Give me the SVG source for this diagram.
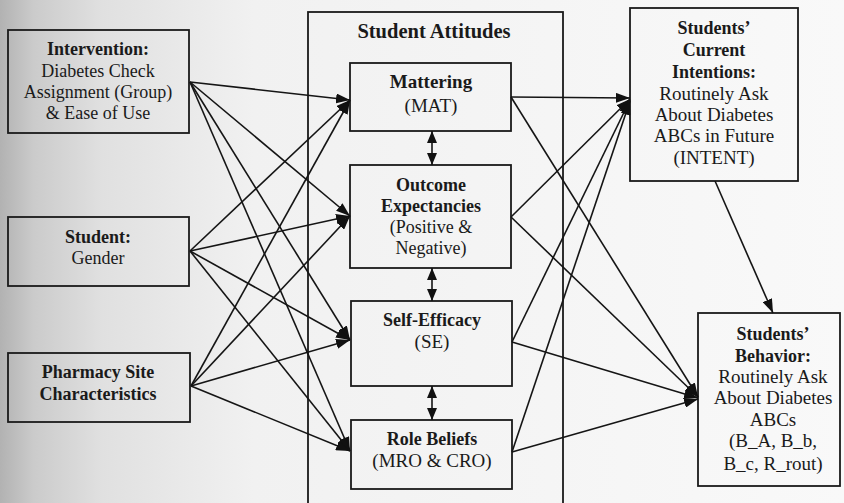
<svg xmlns="http://www.w3.org/2000/svg" width="844" height="503" viewBox="0 0 844 503">
<defs>
<linearGradient id="bg" x1="0" y1="0" x2="1" y2="0">
<stop offset="0" stop-color="#b2b2b2"/>
<stop offset="0.04" stop-color="#cbcbcb"/>
<stop offset="0.12" stop-color="#e0e0e0"/>
<stop offset="0.3" stop-color="#f1f1f1"/>
<stop offset="1" stop-color="#f9f9f9"/>
</linearGradient>
<marker id="ah" markerUnits="userSpaceOnUse" markerWidth="14" markerHeight="10" refX="14" refY="5" orient="auto">
<path d="M0,0 L14,5 L0,10 Z" fill="#111"/>
</marker>
<marker id="dh" markerUnits="userSpaceOnUse" markerWidth="12" markerHeight="10" refX="12" refY="5" orient="auto-start-reverse">
<path d="M0,0 L12,5 L0,10 Z" fill="#111"/>
</marker>
</defs>
<style>
.box{fill:none;stroke:#1a1a1a;stroke-width:1.8}
.t{font-family:"Liberation Serif","Times New Roman",serif;font-size:18px;fill:#1a1a1a;text-anchor:middle}
.b{font-weight:bold}
.a{font-size:19px}
.c line{stroke:#151515;stroke-width:1.6}
</style>
<rect x="0" y="0" width="844" height="503" fill="url(#bg)"/>

<g id="attitudes">
<rect class="box" x="308" y="12" width="255" height="500"/>
<text class="t b" x="434" y="38" style="font-size:20.5px">Student Attitudes</text>
</g>

<g id="intervention">
<rect class="box" x="8" y="30" width="181" height="103"/>
<text class="t b" x="98" y="55">Intervention:</text>
<text class="t" x="98" y="77">Diabetes Check</text>
<text class="t" x="98" y="98">Assignment (Group)</text>
<text class="t" x="98" y="119">&amp; Ease of Use</text>
</g>

<g id="student">
<rect class="box" x="8" y="217" width="181" height="69"/>
<text class="t b" x="98" y="243">Student:</text>
<text class="t" x="98" y="264">Gender</text>
</g>

<g id="pharmacy">
<rect class="box" x="8" y="353" width="182" height="69"/>
<text class="t b" x="98" y="378">Pharmacy Site</text>
<text class="t b" x="98" y="400">Characteristics</text>
</g>

<g id="mattering">
<rect class="box" x="350" y="63" width="161" height="68"/>
<text class="t b a" x="431" y="88">Mattering</text>
<text class="t a" x="431" y="112">(MAT)</text>
</g>

<g id="outcome">
<rect class="box" x="350" y="165" width="161" height="103"/>
<text class="t b" x="431" y="191">Outcome</text>
<text class="t b" x="431" y="212">Expectancies</text>
<text class="t" x="431" y="233">(Positive &amp;</text>
<text class="t" x="431" y="254">Negative)</text>
</g>

<g id="selfefficacy">
<rect class="box" x="351" y="301" width="161" height="85"/>
<text class="t b" x="432" y="326">Self-Efficacy</text>
<text class="t a" x="432" y="348">(SE)</text>
</g>

<g id="rolebeliefs">
<rect class="box" x="351" y="420" width="161" height="69"/>
<text class="t b" x="432" y="445">Role Beliefs</text>
<text class="t a" x="432" y="467">(MRO &amp; CRO)</text>
</g>

<g id="intentions">
<rect class="box" x="630" y="8" width="168" height="173"/>
<text class="t b" x="714" y="34">Students’</text>
<text class="t b" x="714" y="56">Current</text>
<text class="t b" x="714" y="78">Intentions:</text>
<text class="t a" x="714" y="100">Routinely Ask</text>
<text class="t a" x="714" y="121">About Diabetes</text>
<text class="t a" x="714" y="142">ABCs in Future</text>
<text class="t a" x="714" y="164">(INTENT)</text>
</g>

<g id="behavior">
<rect class="box" x="698" y="313" width="142" height="173"/>
<text class="t b" x="773" y="340">Students’</text>
<text class="t b" x="773" y="362">Behavior:</text>
<text class="t a" x="773" y="383">Routinely Ask</text>
<text class="t a" x="773" y="404">About Diabetes</text>
<text class="t a" x="773" y="426">ABCs</text>
<text class="t a" x="773" y="447">(B_A, B_b,</text>
<text class="t a" x="773" y="470">B_c, R_rout)</text>
</g>

<g id="connectors" class="c">
<line x1="190" y1="82" x2="350" y2="100" marker-end="url(#ah)"/>
<line x1="190" y1="82" x2="350" y2="216" marker-end="url(#ah)"/>
<line x1="190" y1="82" x2="350" y2="340" marker-end="url(#ah)"/>
<line x1="190" y1="82" x2="350" y2="451" marker-end="url(#ah)"/>
<line x1="190" y1="251" x2="350" y2="100" marker-end="url(#ah)"/>
<line x1="190" y1="251" x2="350" y2="216" marker-end="url(#ah)"/>
<line x1="190" y1="251" x2="350" y2="340" marker-end="url(#ah)"/>
<line x1="190" y1="251" x2="350" y2="451" marker-end="url(#ah)"/>
<line x1="191" y1="386" x2="350" y2="100" marker-end="url(#ah)"/>
<line x1="191" y1="386" x2="350" y2="216" marker-end="url(#ah)"/>
<line x1="191" y1="386" x2="350" y2="340" marker-end="url(#ah)"/>
<line x1="191" y1="386" x2="350" y2="451" marker-end="url(#ah)"/>
<line x1="511" y1="97" x2="630" y2="98" marker-end="url(#ah)"/>
<line x1="511" y1="217" x2="630" y2="99" marker-end="url(#ah)"/>
<line x1="512" y1="342" x2="630" y2="100" marker-end="url(#ah)"/>
<line x1="512" y1="452" x2="630" y2="101" marker-end="url(#ah)"/>
<line x1="511" y1="97" x2="698" y2="397" marker-end="url(#ah)"/>
<line x1="511" y1="217" x2="698" y2="397" marker-end="url(#ah)"/>
<line x1="512" y1="342" x2="698" y2="398" marker-end="url(#ah)"/>
<line x1="512" y1="452" x2="698" y2="399" marker-end="url(#ah)"/>
<line x1="715" y1="181" x2="773" y2="313" marker-end="url(#ah)"/>
<line x1="432" y1="131" x2="432" y2="165" marker-start="url(#dh)" marker-end="url(#dh)"/>
<line x1="432" y1="268" x2="432" y2="301" marker-start="url(#dh)" marker-end="url(#dh)"/>
<line x1="432" y1="386" x2="432" y2="420" marker-start="url(#dh)" marker-end="url(#dh)"/>
</g>
</svg>
